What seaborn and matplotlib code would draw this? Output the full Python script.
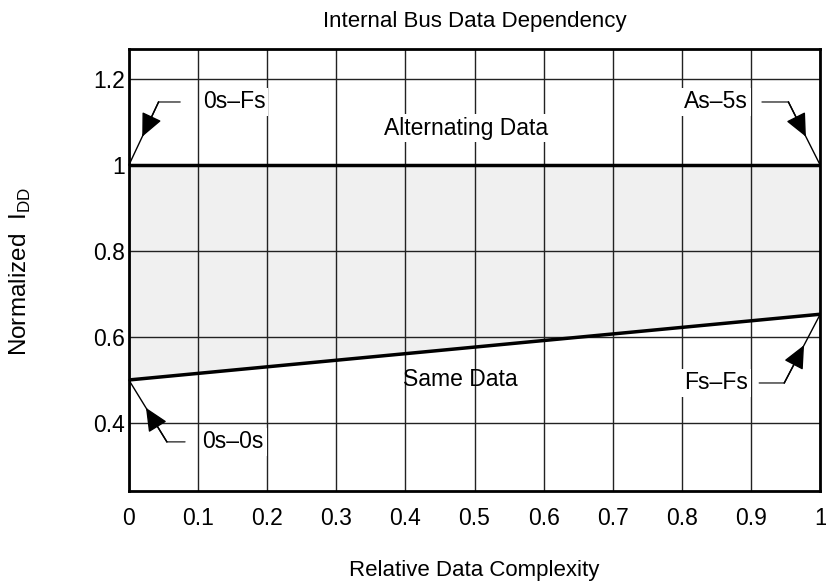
import numpy as np
import matplotlib
matplotlib.use("Agg")
import matplotlib.pyplot as plt
import seaborn as sns

# data
complexity = [0.0, 1.0]
alternating = [1.0, 1.0]
same_data = [0.5, 0.653]
x_ticks = [0, 0.1, 0.2, 0.3, 0.4, 0.5, 0.6, 0.7, 0.8, 0.9, 1]
x_ticklabels = ["0", "0.1", "0.2", "0.3", "0.4", "0.5", "0.6", "0.7", "0.8", "0.9", "1"]
y_ticks = [0.4, 0.6, 0.8, 1.0, 1.2]
y_ticklabels = ["0.4", "0.6", "0.8", "1", "1.2"]

sns.set_theme(style="white")
plt.rcParams['font.family'] = ['Liberation Sans', 'DejaVu Sans']
plt.rcParams['text.color'] = 'black'
plt.rcParams['axes.labelcolor'] = 'black'

fs = 16.5
fig = plt.figure(figsize=(8.26, 5.85), dpi=100)
ax = fig.add_axes([0.156, 0.161, 0.837, 0.755])

ax.fill_between(complexity, same_data, alternating, color="#f0f0f0", zorder=0)
sns.lineplot(x=complexity, y=alternating, ax=ax, color="black", linewidth=2.5, zorder=3)
sns.lineplot(x=complexity, y=same_data, ax=ax, color="black", linewidth=2.5, zorder=3)

ax.set_xlim(0, 1)
ax.set_ylim(0.242, 1.27)
ax.set_xticks(x_ticks)
ax.set_xticklabels(x_ticklabels)
ax.set_yticks(y_ticks)
ax.set_yticklabels(y_ticklabels)
ax.tick_params(axis="x", labelsize=fs, length=0, pad=12, colors="black")
ax.tick_params(axis="y", labelsize=fs, length=0, pad=3, colors="black")
ax.grid(True, color="#222222", linewidth=1.0)
ax.set_axisbelow(True)
for s in ax.spines.values():
    s.set_color("black")
    s.set_linewidth(2)
    s.set_zorder(4)

ax.set_title("Internal Bus Data Dependency", fontsize=16, pad=16, color="black")
ax.set_xlabel("Relative Data Complexity", fontsize=16)
ax.xaxis.set_label_coords(0.5, -0.157)
fig.text(0.025, 0.535, "Normalized  I$_{\\mathregular{DD}}$", rotation=90, fontsize=17.5,
         ha="center", va="center")

box = dict(facecolor="white", edgecolor="none", pad=2)
ax.text(0.488, 1.086, "Alternating Data", fontsize=fs, ha="center", va="center", bbox=box, zorder=5)
ax.text(0.48, 0.50, "Same Data", fontsize=fs, ha="center", va="center", zorder=5)

# callouts: text, text pos, leader start, corner, target point
callouts = [
    ("0s\u2013Fs", (0.152, 1.147), (0.074, 1.147), (0.043, 1.147), (0.0, 1.0)),
    ("As\u20135s", (0.849, 1.147), (0.916, 1.147), (0.954, 1.147), (1.0, 1.0)),
    ("0s\u20130s", (0.151, 0.356), (0.081, 0.356), (0.055, 0.356), (0.0, 0.5)),
    ("Fs\u2013Fs", (0.849, 0.493), (0.912, 0.493), (0.948, 0.493), (1.0, 0.653)),
]
for label, tpos, start, corner, target in callouts:
    ax.text(tpos[0], tpos[1], label, fontsize=fs, ha="center", va="center", bbox=box, zorder=5)
    ax.annotate("", xy=corner, xytext=start,
                arrowprops=dict(arrowstyle="-", color="#555555", lw=1.2,
                                shrinkA=0, shrinkB=0), zorder=6)
    ax.annotate("", xy=target, xytext=corner,
                arrowprops=dict(arrowstyle="-", color="black", lw=1.0,
                                shrinkA=0, shrinkB=0), zorder=6)
    mid = (corner[0] + 0.55 * (target[0] - corner[0]), corner[1] + 0.55 * (target[1] - corner[1]))
    ax.annotate("", xy=mid, xytext=corner,
                arrowprops=dict(arrowstyle="-|>,head_length=1.2,head_width=0.55",
                                color="black", lw=1.0, shrinkA=0, shrinkB=0), zorder=6)

fig.savefig("out.png", dpi=100)
